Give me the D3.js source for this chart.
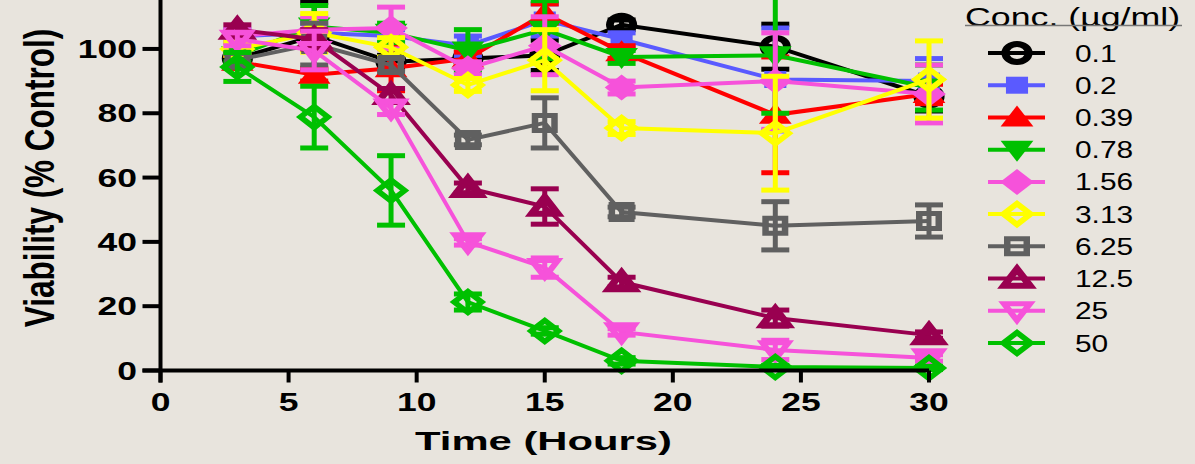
<!DOCTYPE html>
<html>
<head>
<meta charset="utf-8">
<script src="https://cdn.jsdelivr.net/npm/d3@7"></script>
<style>
  html, body { margin: 0; padding: 0; background: #e8e4dd; }
  svg { display: block; }
  text { font-family: "Liberation Sans", Arial, sans-serif; }
</style>
</head>
<body>
<svg id="chart" width="1195" height="464"></svg>
<script>
// Sampling times (hours)
const times = [3, 6, 9, 12, 15, 18, 24, 30];

// Concentrations (µg/ml) shown in the legend
const concentrations = ["0.1", "0.2", "0.39", "0.78", "1.56", "3.13", "6.25", "12.5", "25", "50"];

// Viability (% control), mean per time point
const v01  = [97, 104, 96, 97, 98, 107.5, 100.7, 85.2];
const v02  = [104, 105, 104, 101, 109, 103, 90.5, 90];
const v039 = [96, 92, 94, 97, 111, 99, 79.5, 86];
const v078 = [98, 107, 105, 99.5, 106, 97.5, 98, 88];
const v156 = [104, 106, 106.5, 94, 101, 88, 90, 86];
const v313 = [100, 105, 100.5, 88.8, 96.5, 75.4, 73.8, 90.5];
const v625 = [96.6, 101.5, 95, 71.7, 77, 49.3, 45, 46.5];
const v125 = [106, 103, 85.7, 56.8, 51, 27.5, 16.3, 11];
const v25  = [103, 99.5, 81.6, 40, 32, 12, 6.4, 3.9];
const v50  = [94.4, 78.8, 56, 21.3, 12.3, 3, 1.1, 0.8];

// Error (± SEM) per time point
const e01  = [2, 10.5, 2, 2, 4.7, 1.5, 7, 4.5];
const e02  = [2, 3, 2, 3, 5, 2, 16, 7];
const e039 = [2, 2, 7, 2, 3, 2, 18, 3];
const e078 = [2, 6.5, 3, 6.5, 9, 2, 18, 7];
const e156 = [2, 4, 6.5, 2, 9, 2, 15, 9];
const e313 = [2, 6, 3, 2, 9.5, 2, 17.7, 12];
const e625 = [2, 6.5, 2, 1.5, 7.8, 1.5, 7.5, 5];
const e125 = [1.5, 3, 2, 1.5, 5.5, 1.5, 2.5, 1];
const e25  = [2, 6, 2, 1, 3, 1, 3, 1];
const e50  = [4.5, 9.6, 10.8, 2.5, 1, 1, 0.5, 0.5];

// Axis ticks
const xTicks = [0, 5, 10, 15, 20, 25, 30];
const yTicks = [0, 20, 40, 60, 80, 100];

const means = [v01, v02, v039, v078, v156, v313, v625, v125, v25, v50];
const errs  = [e01, e02, e039, e078, e156, e313, e625, e125, e25, e50];

// Per-series styling: colour, symbol shape, open/filled
const styles = [
  { color: "#000000", shape: "circle",  open: true,  sw: 6 },
  { color: "#5a5aff", shape: "square",  open: false, sw: 0 },
  { color: "#ff0000", shape: "triUp",   open: false, sw: 0 },
  { color: "#00c000", shape: "triDown", open: false, sw: 0 },
  { color: "#f652da", shape: "diamond", open: false, sw: 0 },
  { color: "#ffff00", shape: "diamond", open: true,  sw: 5 },
  { color: "#606060", shape: "square",  open: true,  sw: 5 },
  { color: "#990050", shape: "triUp",   open: true,  sw: 6 },
  { color: "#f652da", shape: "triDown", open: true,  sw: 5 },
  { color: "#00c000", shape: "diamond", open: true,  sw: 5 }
];

const series = concentrations.map((c, i) => ({
  name: c,
  style: styles[i],
  points: times.map((t, j) => ({ t, v: means[i][j], e: errs[i][j] }))
}));

const svg = d3.select("#chart");
const bg = "#e8e4dd";
svg.append("rect").attr("width", 1195).attr("height", 464).attr("fill", bg);

const x = d3.scaleLinear().domain([0, 30]).range([160.5, 929]);
const y = d3.scaleLinear().domain([0, 115]).range([370.5, 0.7]);

const SX = 1.3; // horizontal stretch of glyphs and symbols

function symbolPath(shape, filled) {
  const p = d3.path();
  if (shape === "circle") {
    p.arc(0, 0, 9, 0, Math.PI * 2);
  } else if (shape === "square") {
    const h = filled ? 8.5 : 7.5;
    p.rect(-h, -h, 2 * h, 2 * h);
  } else if (shape === "triUp") {
    const s = filled ? 12 : 9.5;
    p.moveTo(0, -s); p.lineTo(s * 1.05, s * 0.75); p.lineTo(-s * 1.05, s * 0.75); p.closePath();
  } else if (shape === "triDown") {
    const s = filled ? 12 : 9.5;
    p.moveTo(0, s); p.lineTo(s * 1.05, -s * 0.75); p.lineTo(-s * 1.05, -s * 0.75); p.closePath();
  } else if (shape === "diamond") {
    const s = filled ? 13 : 10.5;
    p.moveTo(0, -s); p.lineTo(s, 0); p.lineTo(0, s); p.lineTo(-s, 0); p.closePath();
  }
  return p.toString();
}

function drawSymbol(g, st, cx, cy) {
  g.append("path")
    .attr("d", symbolPath(st.shape, !st.open))
    .attr("transform", `translate(${cx},${cy}) scale(${SX},1)`)
    .attr("fill", st.open ? "none" : st.color)
    .attr("stroke", st.open ? st.color : "none")
    .attr("stroke-width", st.sw)
    .attr("stroke-linejoin", "miter");
}

const plot = svg.append("g");
const line = d3.line().x(d => x(d.t)).y(d => y(d.v));

series.forEach(s => {
  const g = plot.append("g");
  g.append("path")
    .datum(s.points)
    .attr("d", line)
    .attr("fill", "none")
    .attr("stroke", s.style.color)
    .attr("stroke-width", 4);

  const eb = g.selectAll(".eb").data(s.points).enter().append("g");
  eb.append("line")
    .attr("x1", d => x(d.t)).attr("x2", d => x(d.t))
    .attr("y1", d => y(d.v - d.e)).attr("y2", d => y(d.v + d.e))
    .attr("stroke", s.style.color).attr("stroke-width", 5);
  [1, -1].forEach(sign => {
    eb.append("line")
      .attr("x1", d => x(d.t) - 14).attr("x2", d => x(d.t) + 14)
      .attr("y1", d => y(d.v + sign * d.e)).attr("y2", d => y(d.v + sign * d.e))
      .attr("stroke", s.style.color).attr("stroke-width", 5);
  });

  s.points.forEach(d => drawSymbol(g, s.style, x(d.t), y(d.v)));
});

// Axes
const axes = svg.append("g");
axes.append("line").attr("x1", x(0)).attr("x2", x(0)).attr("y1", 0).attr("y2", y(0) + 12)
  .attr("stroke", "#000").attr("stroke-width", 4);
axes.append("line").attr("x1", x(0) - 18).attr("x2", x(30)).attr("y1", y(0)).attr("y2", y(0))
  .attr("stroke", "#000").attr("stroke-width", 4);

yTicks.forEach(v => {
  axes.append("line").attr("x1", x(0) - 18).attr("x2", x(0)).attr("y1", y(v)).attr("y2", y(v))
    .attr("stroke", "#000").attr("stroke-width", 4);
  axes.append("text")
    .attr("transform", `translate(137,${y(v) + 9}) scale(1.42,1)`)
    .attr("text-anchor", "end")
    .attr("font-size", 25).attr("font-weight", "bold").attr("fill", "#000")
    .text(v);
});

xTicks.forEach(t => {
  axes.append("line").attr("x1", x(t)).attr("x2", x(t)).attr("y1", y(0)).attr("y2", y(0) + 12)
    .attr("stroke", "#000").attr("stroke-width", 4);
  axes.append("text")
    .attr("transform", `translate(${x(t)},411) scale(1.42,1)`)
    .attr("text-anchor", "middle")
    .attr("font-size", 25).attr("font-weight", "bold").attr("fill", "#000")
    .text(t);
});

// Axis titles
axes.append("text")
  .attr("x", 415).attr("y", 450)
  .attr("font-size", 26).attr("font-weight", "bold").attr("fill", "#000")
  .attr("textLength", 257).attr("lengthAdjust", "spacingAndGlyphs")
  .text("Time (Hours)");

axes.append("text")
  .attr("transform", "translate(54,178) scale(1.33,1) rotate(-90)")
  .attr("text-anchor", "middle")
  .attr("font-size", 31.5).attr("font-weight", "bold").attr("fill", "#000")
  .text("Viability (% Control)");

// Legend
const legend = svg.append("g");
legend.append("text")
  .attr("transform", "translate(965,26) scale(1.43,1)")
  .attr("font-size", 25).attr("fill", "#000")
  .text("Conc. (µg/ml)");
legend.append("line").attr("x1", 965).attr("x2", 1182).attr("y1", 25.5).attr("y2", 25.5)
  .attr("stroke", "#777").attr("stroke-width", 1.5);

const ly = d3.scalePoint().domain(concentrations).range([53, 343]);
series.forEach(s => {
  const cy = ly(s.name);
  const g = legend.append("g");
  g.append("line").attr("x1", 988).attr("x2", 1045).attr("y1", cy).attr("y2", cy)
    .attr("stroke", s.style.color).attr("stroke-width", 4);
  drawSymbol(g, s.style, 1017, cy);
  g.append("text")
    .attr("transform", `translate(1075,${cy + 8.5}) scale(1.3,1)`)
    .attr("font-size", 23).attr("fill", "#000")
    .text(s.name);
});
</script>
</body>
</html>
